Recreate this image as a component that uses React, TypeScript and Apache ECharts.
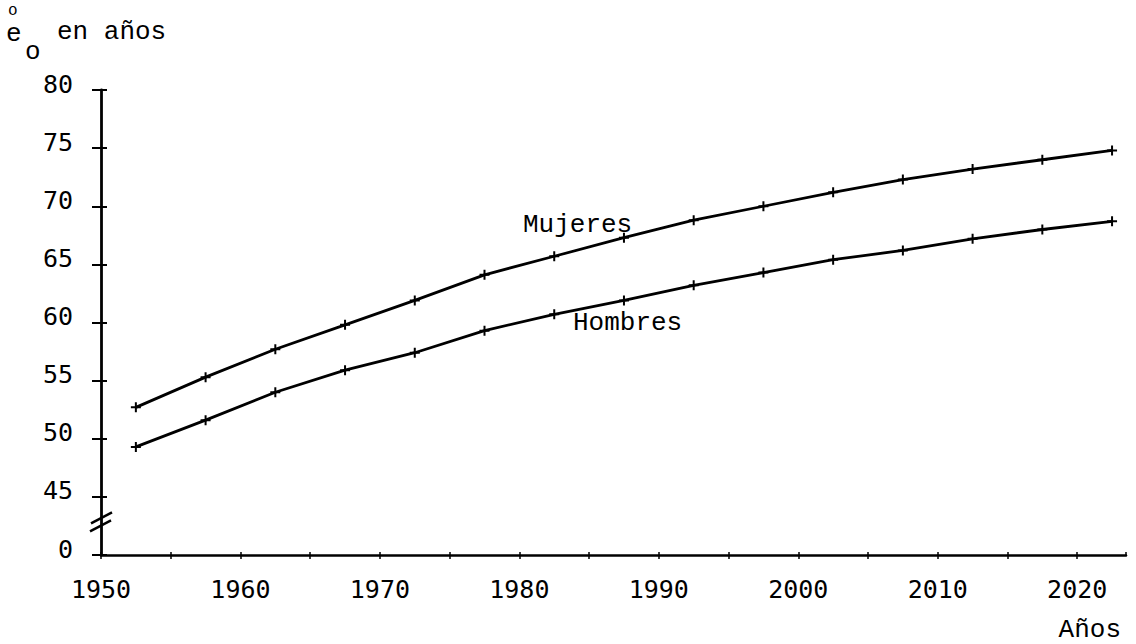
import React, { useEffect, useRef } from "react";
import * as echarts from "echarts";

const years = [1952.5, 1957.5, 1962.5, 1967.5, 1972.5, 1977.5, 1982.5, 1987.5, 1992.5, 1997.5, 2002.5, 2007.5, 2012.5, 2017.5, 2022.5];
const mujeres = [52.7, 55.3, 57.7, 59.8, 61.9, 64.1, 65.7, 67.3, 68.8, 70.0, 71.2, 72.3, 73.2, 74.0, 74.8];
const hombres = [49.3, 51.6, 54.0, 55.9, 57.4, 59.3, 60.7, 61.9, 63.2, 64.3, 65.4, 66.2, 67.2, 68.0, 68.7];
const yTickLabels: Record<number, string> = { 40: "0", 45: "45", 50: "50", 55: "55", 60: "60", 65: "65", 70: "70", 75: "75", 80: "80" };
const xTickLabels = [1950, 1960, 1970, 1980, 1990, 2000, 2010, 2020];

const MONO = "Liberation Mono";
const DIGITS = "DejaVu Sans Mono";
const PLUS = "path://M4 0H6V4H10V6H6V10H4V6H0V4H4Z";

export default function App() {
  const ref = useRef<HTMLDivElement>(null);
  useEffect(() => {
    document.body.style.margin = "0";
    const chart = echarts.init(ref.current!, null, { renderer: "svg" });
    const mk = (name: string, vals: number[]) => ({
      type: "line",
      name,
      data: years.map((y, i) => [y, vals[i]]),
      symbol: PLUS,
      symbolSize: 10,
      showSymbol: true,
      lineStyle: { color: "#000", width: 2.8 },
      itemStyle: { color: "#000" },
    });
    chart.setOption({
      animation: false,
      backgroundColor: "#fff",
      grid: { left: 101, right: 10, top: 90, bottom: 89, containLabel: false },
      xAxis: [
        {
          type: "value",
          min: 1950,
          max: 2023.5,
          interval: 5,
          axisLine: { show: true, lineStyle: { color: "#000", width: 2.5 } },
          axisTick: { show: true, length: 4, lineStyle: { color: "#000", width: 1.5 } },
          splitLine: { show: false },
          axisLabel: {
            margin: 22,
            color: "#000",
            fontFamily: DIGITS,
            fontSize: 25,
            showMaxLabel: false,
            formatter: (v: number) => (xTickLabels.includes(v) ? String(v) : ""),
          },
        },
        {
          type: "value",
          min: 1950,
          max: 2023.5,
          interval: 5,
          position: "bottom",
          axisLine: { show: false },
          axisTick: { show: true, inside: true, length: 3, lineStyle: { color: "#000", width: 1.5 } },
          axisLabel: { show: false },
          splitLine: { show: false },
        },
      ],
      yAxis: [
        {
          type: "value",
          min: 40,
          max: 80,
          interval: 5,
          axisLine: { show: true, lineStyle: { color: "#000", width: 2.8 } },
          axisTick: { show: true, length: 9, lineStyle: { color: "#000", width: 2 } },
          splitLine: { show: false },
          axisLabel: {
            margin: 28,
            color: "#000",
            fontFamily: DIGITS,
            fontSize: 25,
            verticalAlign: "bottom",
            lineHeight: 12,
            formatter: (v: number) => yTickLabels[v] ?? "",
          },
        },
        {
          type: "value",
          min: 40,
          max: 80,
          interval: 5,
          position: "left",
          axisLine: { show: false },
          axisTick: { show: true, inside: true, length: 6, lineStyle: { color: "#000", width: 2 } },
          axisLabel: { show: false },
          splitLine: { show: false },
        },
      ],
      series: [mk("Mujeres", mujeres), mk("Hombres", hombres)],
    });

    const b = chart.convertToPixel({ gridIndex: 0 }, [1950, 42.8]) as number[];
    const bx = b[0];
    const by = b[1];
    const txt = (text: string, x: number, y: number, size: number, align: string, lh?: number) => ({
      type: "text",
      x,
      y,
      style: { text, fontFamily: MONO, fontSize: size, fill: "#000", align, verticalAlign: "middle", lineHeight: lh ?? size },
    });
    chart.setOption({
      graphic: [
        { type: "line", shape: { x1: bx - 10, y1: by + 1, x2: bx + 11, y2: by - 10 }, style: { stroke: "#000", lineWidth: 2.5 } },
        { type: "line", shape: { x1: bx - 11, y1: by + 9, x2: bx + 10, y2: by - 2 }, style: { stroke: "#000", lineWidth: 2.5 } },
        txt("Mujeres", 523, 225, 26, "left"),
        txt("Hombres", 573, 323, 26, "left"),
        txt("Años", 1121, 630, 26, "right", 20),
        txt("o", 8, 11, 16, "left", 8),
        txt("e", 6, 34, 26, "left", 12),
        txt("o", 25, 52, 26, "left", 12),
        txt("en años", 57, 32, 26, "left", 20),
      ],
    });
    return () => chart.dispose();
  }, []);
  return <div ref={ref} style={{ width: 1136, height: 644 }} />;
}
